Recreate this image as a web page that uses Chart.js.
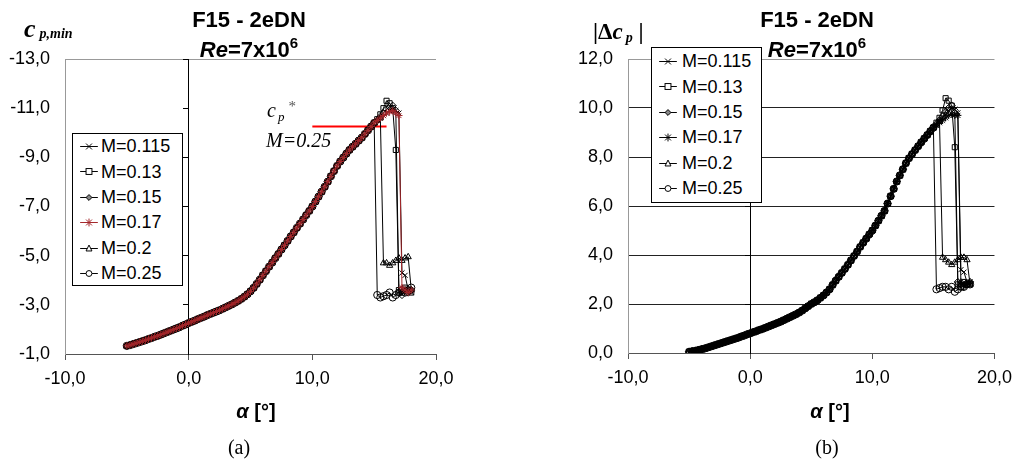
<!DOCTYPE html>
<html><head><meta charset="utf-8">
<script src="https://cdn.jsdelivr.net/npm/chart.js@4.4.0/dist/chart.umd.min.js"></script>
<style>
html,body{margin:0;padding:0;background:#fff;}
#wrap{position:relative;width:1020px;height:462px;overflow:hidden;font-family:"Liberation Sans",Arial,sans-serif;}
canvas{position:absolute;top:0;}
.t{position:absolute;white-space:nowrap;line-height:1;color:#000;}
.serif{font-family:"Liberation Serif","Times New Roman",serif;}
.ttl{font-weight:bold;font-size:22px;transform:translateX(-50%);}
.legend{position:absolute;border:1px solid #000;background:#fff;box-sizing:border-box;font-size:18px;}
.legend .row{height:25.4px;display:flex;align-items:center;position:relative;}
.legend svg{position:absolute;top:0;}
.legend span{position:absolute;}
</style></head><body>
<div id="wrap">
<canvas id="cA" width="510" height="462" style="left:0"></canvas>
<canvas id="cB" width="510" height="462" style="left:510px"></canvas>

<div class="t ttl" style="left:249px;top:9px">F15 - 2eDN</div>
<div class="t ttl" style="left:249px;top:39px"><i>Re</i>=7x10<span style="font-size:15px;position:relative;top:-9px">6</span></div>
<div class="t ttl" style="left:817px;top:9px">F15 - 2eDN</div>
<div class="t ttl" style="left:817px;top:39px"><i>Re</i>=7x10<span style="font-size:15px;position:relative;top:-9px">6</span></div>

<div class="t serif" style="left:24px;top:16px;font-size:26px;font-weight:bold;font-style:italic">c<span style="font-size:14px;position:relative;top:1px;margin-left:4px">p,min</span></div>
<div class="t serif" style="left:593px;top:20px;font-size:23px;font-weight:bold">|Δ<i>c</i><span style="font-size:14px;font-style:italic;position:relative;top:3px;margin-left:3px">p</span> |</div>

<div class="t serif" style="left:267px;top:100px;font-size:20px;font-style:italic">c<span style="font-size:13px;position:relative;top:4px;margin-left:2px">p</span><span style="font-size:15px;font-style:normal;position:relative;top:-6px;margin-left:4px;color:#555">*</span></div>
<div class="t serif" style="left:266px;top:130px;font-size:20px;font-style:italic">M=0.25</div>

<div class="t" style="left:256px;top:401px;font-size:20px;font-weight:bold;transform:translateX(-50%)"><i>α</i> [°]</div>
<div class="t" style="left:830px;top:401px;font-size:20px;font-weight:bold;transform:translateX(-50%)"><i>α</i> [°]</div>
<div class="t serif" style="left:239px;top:437px;font-size:20px;transform:translateX(-50%)">(a)</div>
<div class="t serif" style="left:827px;top:437px;font-size:20px;transform:translateX(-50%)">(b)</div>

<div id="legA" class="legend" style="left:72px;top:133px;width:111px;height:153px;"></div>
<div id="legB" class="legend" style="left:651px;top:47px;width:111px;height:156px;padding-top:1px"></div>
</div>
<script>
// ---------------- data ----------------
const seriesLabels = ['M=0.115','M=0.13','M=0.15','M=0.17','M=0.2','M=0.25'];

// common attached-flow part of all series (alpha in degrees)
const alphaBase = [-5,-4.75,-4.5,-4.25,-4,-3.75,-3.5,-3.25,-3,-2.75,-2.5,-2.25,-2,-1.75,-1.5,-1.25,-1,-0.75,-0.5,-0.25,
 0,0.25,0.5,0.75,1,1.25,1.5,1.75,2,2.25,2.5,2.75,3,3.25,3.5,3.75,4,4.25,4.5,4.75,
 5,5.25,5.5,5.75,6,6.25,6.5,6.75,7,7.25,7.5,7.75,8,8.25,8.5,8.75,9,9.25,9.5,9.75,
 10,10.25,10.5,10.75,11,11.25,11.5,11.75,12,12.25,12.5,12.75,13,13.25,13.5,13.75,14,14.25,14.5,14.75,15];
const cpMinBase = [-1.33,-1.36,-1.40,-1.44,-1.48,-1.52,-1.56,-1.61,-1.65,-1.70,-1.74,-1.79,-1.84,-1.89,-1.94,-1.99,-2.04,-2.09,-2.15,-2.20,
 -2.26,-2.31,-2.36,-2.42,-2.47,-2.52,-2.58,-2.63,-2.68,-2.73,-2.78,-2.84,-2.90,-2.96,-3.02,-3.09,-3.16,-3.24,-3.33,-3.43,
 -3.55,-3.69,-3.85,-4.02,-4.20,-4.37,-4.55,-4.72,-4.90,-5.07,-5.25,-5.42,-5.60,-5.78,-5.95,-6.13,-6.30,-6.47,-6.65,-6.82,
 -7.00,-7.20,-7.40,-7.60,-7.80,-8.01,-8.23,-8.44,-8.65,-8.83,-8.99,-9.15,-9.30,-9.43,-9.55,-9.68,-9.80,-9.95,-10.10,-10.25,-10.40];
const dcpBase = [0.05,0.07,0.09,0.12,0.15,0.18,0.22,0.26,0.30,0.34,0.38,0.42,0.46,0.50,0.54,0.58,0.62,0.67,0.71,0.76,
 0.80,0.85,0.89,0.94,0.98,1.03,1.08,1.13,1.18,1.23,1.28,1.34,1.40,1.46,1.52,1.58,1.65,1.73,1.82,1.91,
 2.00,2.07,2.15,2.25,2.35,2.47,2.60,2.78,2.95,3.11,3.27,3.43,3.60,3.78,3.96,4.14,4.33,4.50,4.67,4.84,
 5.00,5.20,5.40,5.60,5.80,6.10,6.40,6.70,7.00,7.25,7.50,7.75,7.95,8.12,8.28,8.44,8.60,8.75,8.90,9.05,9.20];

// stall region, one set per Mach number
const alphaTail115 = [15.25,15.5,15.75,16,16.25,16.5,16.75,17,17.25,17.5,17.75,18];
const cpMinTail115 = [-10.5,-10.6,-10.7,-10.8,-10.9,-10.95,-10.9,-10.8,-4.3,-4.2,-3.6,-3.5];
const dcpTail115   = [9.3,9.45,9.6,9.75,9.9,10.0,9.95,9.8,3.4,3.3,2.9,2.8];

const alphaTail13 = [15.25,15.5,15.75,16,16.25,16.5,16.75,17,17.25,17.5,17.75,18];
const cpMinTail13 = [-10.55,-10.75,-11.0,-11.3,-11.2,-11.0,-9.3,-3.6,-3.5,-3.7,-3.6,-3.5];
const dcpTail13   = [9.4,9.6,9.9,10.4,10.3,10.1,8.4,2.8,2.7,2.9,2.8,2.8];

const alphaTail15 = [15.25,15.5,15.75,16,16.25,16.5,16.75,17,17.25,17.5,17.75,18];
const cpMinTail15 = [-10.5,-10.65,-10.8,-10.95,-11.05,-11.1,-10.9,-3.5,-3.4,-3.6,-3.5,-3.6];
const dcpTail15   = [9.35,9.5,9.65,9.85,10.0,10.1,9.9,2.9,2.8,2.7,2.8,2.9];

const alphaTail17 = [15.25,15.5,15.75,16,16.25,16.5,16.75,17,17.25,17.5,17.75,18];
const cpMinTail17 = [-10.5,-10.6,-10.7,-10.8,-10.85,-10.9,-10.8,-10.7,-3.7,-3.6,-3.5,-3.6];
const dcpTail17   = [9.3,9.4,9.5,9.6,9.7,9.75,9.7,9.7,2.9,2.8,2.8,2.9];

const alphaTail20 = [15.25,15.5,15.75,16,16.25,16.5,16.75,17,17.25,17.5,17.75,18];
const cpMinTail20 = [-10.5,-10.6,-4.7,-4.7,-4.6,-4.7,-4.8,-4.9,-4.8,-4.9,-4.95,-3.6];
const dcpTail20   = [9.3,9.45,3.9,3.8,3.7,3.6,3.7,3.8,3.9,3.9,3.8,2.8];

const alphaTail25 = [15.25,15.5,15.75,16,16.25,16.5,16.75,17,17.25,17.5,17.75,18];
const cpMinTail25 = [-3.4,-3.3,-3.35,-3.4,-3.5,-3.3,-3.4,-3.5,-3.6,-3.5,-3.6,-3.7];
const dcpTail25   = [2.6,2.65,2.7,2.7,2.6,2.7,2.5,2.6,2.7,2.7,2.8,2.8];

// critical pressure coefficient line (M=0.25)
const cpStarAlpha = [10, 16];
const cpStarValue = [-10.25, -10.25];

// axis ticks
const alphaTicks = [-10, 0, 10, 20];
const cpMinTicks = [-13, -11, -9, -7, -5, -3, -1];
const dcpTicks = [0, 2, 4, 6, 8, 10, 12];

// ---------------- styles ----------------
const pointStyles = ['crossRot','rect','rectRot','star','triangle','circle'];
const colorsA = ['#000','#000','#000','#A3262A','#000','#000'];
const colorsB = ['#000','#000','#000','#000','#000','#000'];

function zip(xs, ys){ return xs.map((x,i)=>({x:x, y:ys[i]})); }
const tailsA = [[alphaTail115,cpMinTail115],[alphaTail13,cpMinTail13],[alphaTail15,cpMinTail15],[alphaTail17,cpMinTail17],[alphaTail20,cpMinTail20],[alphaTail25,cpMinTail25]];
const tailsB = [[alphaTail115,dcpTail115],[alphaTail13,dcpTail13],[alphaTail15,dcpTail15],[alphaTail17,dcpTail17],[alphaTail20,dcpTail20],[alphaTail25,dcpTail25]];

function fmt(v){ return Number(v).toFixed(1).replace('.', ','); }
const tickFont = {family:'"Liberation Sans", Arial, sans-serif', size:18};

function makeDatasets(base, tails, colors){
  return seriesLabels.map((lab,i)=>({
    label: lab,
    data: zip(alphaBase, base).concat(zip(tails[i][0], tails[i][1])),
    xAxisID:'x', yAxisID:'y',
    borderColor: colors[i], backgroundColor:'rgba(0,0,0,0)',
    borderWidth:1, pointStyle: pointStyles[i], pointRadius:3.6,
    pointBorderColor: colors[i], pointBackgroundColor:'rgba(255,255,255,0)', pointBorderWidth:1,
    showLine:true, tension:0, order: i===3 ? 0 : 1
  }));
}

function xScale(h){
  return {type:'linear', min:-10, max:20, afterBuildTicks:(s)=>{ s.ticks = alphaTicks.map(v=>({value:v})); },
    ticks:{callback:fmt, font:tickFont, color:'#000', padding:8, maxRotation:0, autoSkip:false},
    grid:{color:(c)=> (c.tick && c.tick.value===0) ? '#000' : 'rgba(0,0,0,0)', tickColor:'#555', drawTicks:true, tickLength:6, lineWidth:1},
    border:{color:'#555', width:1},
    afterFit:(s)=>{ s.height = h; }};
}

// ---------- chart A ----------
const dsA = makeDatasets(cpMinBase, tailsA, colorsA);
dsA.push({label:'cp*', data: zip(cpStarAlpha, cpStarValue), xAxisID:'x', yAxisID:'y', borderColor:'#ff0000', borderWidth:2, pointRadius:0, showLine:true, order:2});
new Chart(document.getElementById('cA'), {
  type:'line',
  data:{datasets: dsA},
  options:{
    responsive:false, animation:false, devicePixelRatio:1,
    layout:{padding:{top:59, right:74, left:0, bottom:0}},
    plugins:{legend:{display:false}, tooltip:{enabled:false}, title:{display:false}},
    scales:{
      x: xScale(108),
      y:{type:'linear', reverse:true, min:-13, max:-1,
        afterBuildTicks:(s)=>{ s.ticks = cpMinTicks.map(v=>({value:v})); },
        ticks:{callback:fmt, font:tickFont, color:'#000', padding:15},
        grid:{color:(c)=> (c.tick && c.tick.value===-13) ? '#999' : 'rgba(0,0,0,0)', drawTicks:false},
        border:{color:'#999'},
        afterFit:(s)=>{ s.width = 65; }},
      y0:{type:'linear', position:{x:0}, reverse:true, min:-13, max:-1,
        afterBuildTicks:(s)=>{ s.ticks = cpMinTicks.map(v=>({value:v})); },
        ticks:{display:false},
        grid:{drawOnChartArea:false, drawTicks:true, tickLength:5, color:'#000'},
        border:{color:'#000'}}
    }
  }
});

// ---------- chart B ----------
new Chart(document.getElementById('cB'), {
  type:'line',
  data:{datasets: makeDatasets(dcpBase, tailsB, colorsB)},
  options:{
    responsive:false, animation:false, devicePixelRatio:1,
    layout:{padding:{top:59, right:20, left:0, bottom:0}},
    plugins:{legend:{display:false}, tooltip:{enabled:false}, title:{display:false}},
    scales:{
      x: xScale(109),
      y:{type:'linear', min:0, max:12,
        afterBuildTicks:(s)=>{ s.ticks = dcpTicks.map(v=>({value:v})); },
        ticks:{callback:fmt, font:tickFont, color:'#000', padding:15},
        grid:{color:(c)=> (c.tick && c.tick.value===12) ? '#999' : (c.tick && c.tick.value===0 ? 'rgba(0,0,0,0)' : '#222'), drawTicks:false},
        border:{color:'#999'},
        afterFit:(s)=>{ s.width = 118; }},
      y0:{type:'linear', position:{x:0}, min:0, max:12,
        afterBuildTicks:(s)=>{ s.ticks = dcpTicks.map(v=>({value:v})); },
        ticks:{display:false},
        grid:{drawOnChartArea:false, drawTicks:true, tickLength:5, color:'#000'},
        border:{color:'#000'}}
    }
  }
});

// ---------- HTML legends ----------
function markerSVG(style, color){
  const c = 12, r = 3;
  let s = '';
  if(style==='crossRot'){ s = `<path d="M${c-r} ${c-r}L${c+r} ${c+r}M${c-r} ${c+r}L${c+r} ${c-r}" stroke="${color}"/>`; }
  else if(style==='rect'){ s = `<rect x="${c-r}" y="${c-r}" width="${2*r}" height="${2*r}" fill="#fff" stroke="${color}"/>`; }
  else if(style==='rectRot'){ s = `<path d="M${c} ${c-r}L${c+r} ${c}L${c} ${c+r}L${c-r} ${c}Z" fill="#888" stroke="${color}"/>`; }
  else if(style==='star'){ s = `<path d="M${c-r} ${c-r}L${c+r} ${c+r}M${c-r} ${c+r}L${c+r} ${c-r}M${c} ${c-r-1}L${c} ${c+r+1}M${c-r-1} ${c}L${c+r+1} ${c}" stroke="${color}"/>`; }
  else if(style==='triangle'){ s = `<path d="M${c} ${c-r-0.5}L${c+r} ${c+r-0.5}L${c-r} ${c+r-0.5}Z" fill="#fff" stroke="${color}"/>`; }
  else if(style==='circle'){ s = `<circle cx="${c}" cy="${c}" r="${r}" fill="#fff" stroke="${color}"/>`; }
  return `<svg width="24" height="25" viewBox="0 0 24 25.4" style="left:4px"><path d="M3 12.7H21" stroke="${color}" stroke-width="1"/><g transform="translate(0,0.7)">${s}</g></svg>`;
}
function buildLegend(id, colors, textLeft){
  const el = document.getElementById(id);
  el.innerHTML = seriesLabels.map((lab,i)=>`<div class="row">${markerSVG(pointStyles[i], colors[i])}<span style="left:${textLeft}px">${lab}</span></div>`).join('');
}
buildLegend('legA', colorsA, 28);
buildLegend('legB', colorsB, 30);
</script>
</body></html>
